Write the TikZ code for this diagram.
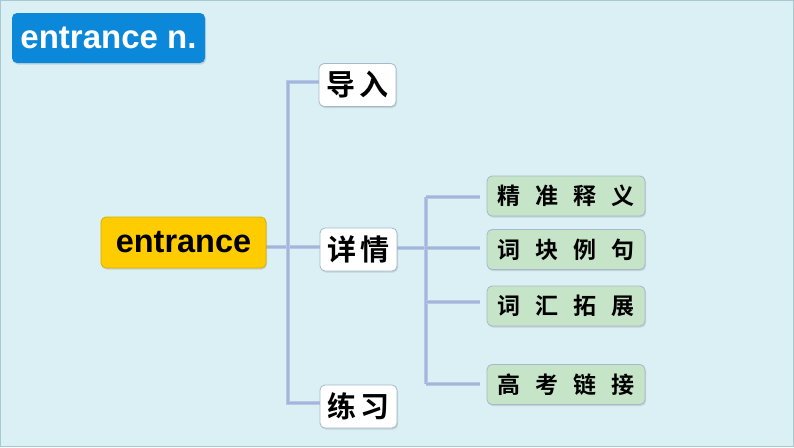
\documentclass[tikz,border=0pt]{standalone}
\usepackage{fontspec}
\setmainfont{Liberation Sans}
\newfontfamily\cjk{Noto Sans CJK SC}[BoldFont={Noto Sans CJK SC Bold}]
\usetikzlibrary{shadows,backgrounds}
\definecolor{bgc}{HTML}{DAF0F4}
\definecolor{edgec}{HTML}{A9C9D2}
\definecolor{titleblue}{HTML}{0B88DA}
\definecolor{ybox}{HTML}{FFCC00}
\definecolor{gbox}{HTML}{C6E4C7}
\definecolor{linkc}{HTML}{B6C8E6}
\definecolor{linkd}{HTML}{A2B6DC}
\definecolor{boxedge}{HTML}{A5B8CC}
\tikzset{
  box/.style={draw=boxedge, line width=0.8pt, rounded corners=5pt, inner sep=0pt,
    drop shadow={opacity=0.25, shadow xshift=1pt, shadow yshift=-1.5pt}},
  wbox/.style={box, fill=white, minimum width=77pt, minimum height=43pt,
    font=\cjk\bfseries\fontsize{29}{32}\selectfont},
  gnode/.style={box, fill=gbox, minimum width=158pt, minimum height=40pt,
    font=\cjk\bfseries\fontsize{23}{26}\selectfont},
  link/.style={draw=linkc, line width=3.4pt,
    postaction={draw=linkd, line width=1.3pt}},
}
\begin{document}
\begin{tikzpicture}[x=1pt,y=-1pt]
\useasboundingbox (0,0) rectangle (794,447);

% title
\node[box, draw=none, fill=titleblue, minimum width=193pt, minimum height=50pt,
  font=\bfseries\fontsize{33}{37}\selectfont, text=white] (title) at (108.5,38) {entrance n.};

% root
\node[box, draw=ybox!85!black, fill=ybox, minimum width=165pt, minimum height=51pt,
  font=\bfseries\fontsize{32.5}{36}\selectfont] (en) at (183.5,242.5) {entrance};

% level 1
\node[wbox] (dr) at (357.5,85) {导\hspace{5pt}入};
\node[wbox] (xq) at (358.5,249.5) {详\hspace{5pt}情};
\node[wbox] (lx) at (358.5,406.5) {练\hspace{5pt}习};

% level 2
\node[gnode] (c1) at (566,196) {精\hspace{15pt}准\hspace{15pt}释\hspace{15pt}义};
\node[gnode] (c2) at (566,249.5) {词\hspace{15pt}块\hspace{15pt}例\hspace{15pt}句};
\node[gnode] (c3) at (566,306) {词\hspace{15pt}汇\hspace{15pt}拓\hspace{15pt}展};
\node[gnode] (c4) at (566,384.5) {高\hspace{15pt}考\hspace{15pt}链\hspace{15pt}接};

\coordinate (j1) at (288,247);
\coordinate (j2) at (426,248);
\coordinate (t1) at (288,82);
\coordinate (b1) at (288,403);
\coordinate (t2) at (426,197);
\coordinate (m2) at (426,302);
\coordinate (b2) at (426,384);

\begin{pgfonlayer}{background}
\fill[bgc] (0,0) rectangle (794,447);
\draw[edgec, line width=1pt] (0.5,0.5) rectangle (793.5,446.5);
% left bracket
\draw[link] (en.east |- j1) -- (xq.west |- j1);
\draw[link] (dr.west |- t1) -- (t1) -- (b1) -- (lx.west |- b1);
% right bracket
\draw[link] (xq.east |- j2) -- (j2);
\draw[link] (t2) -- (b2);
\draw[link, shorten >=7pt] (t2) -- (c1.west |- t2);
\draw[link, shorten >=7pt] (j2) -- (c2.west |- j2);
\draw[link, shorten >=7pt] (m2) -- (c3.west |- m2);
\draw[link, shorten >=7pt] (b2) -- (c4.west |- b2);
\end{pgfonlayer}
\end{tikzpicture}
\end{document}
